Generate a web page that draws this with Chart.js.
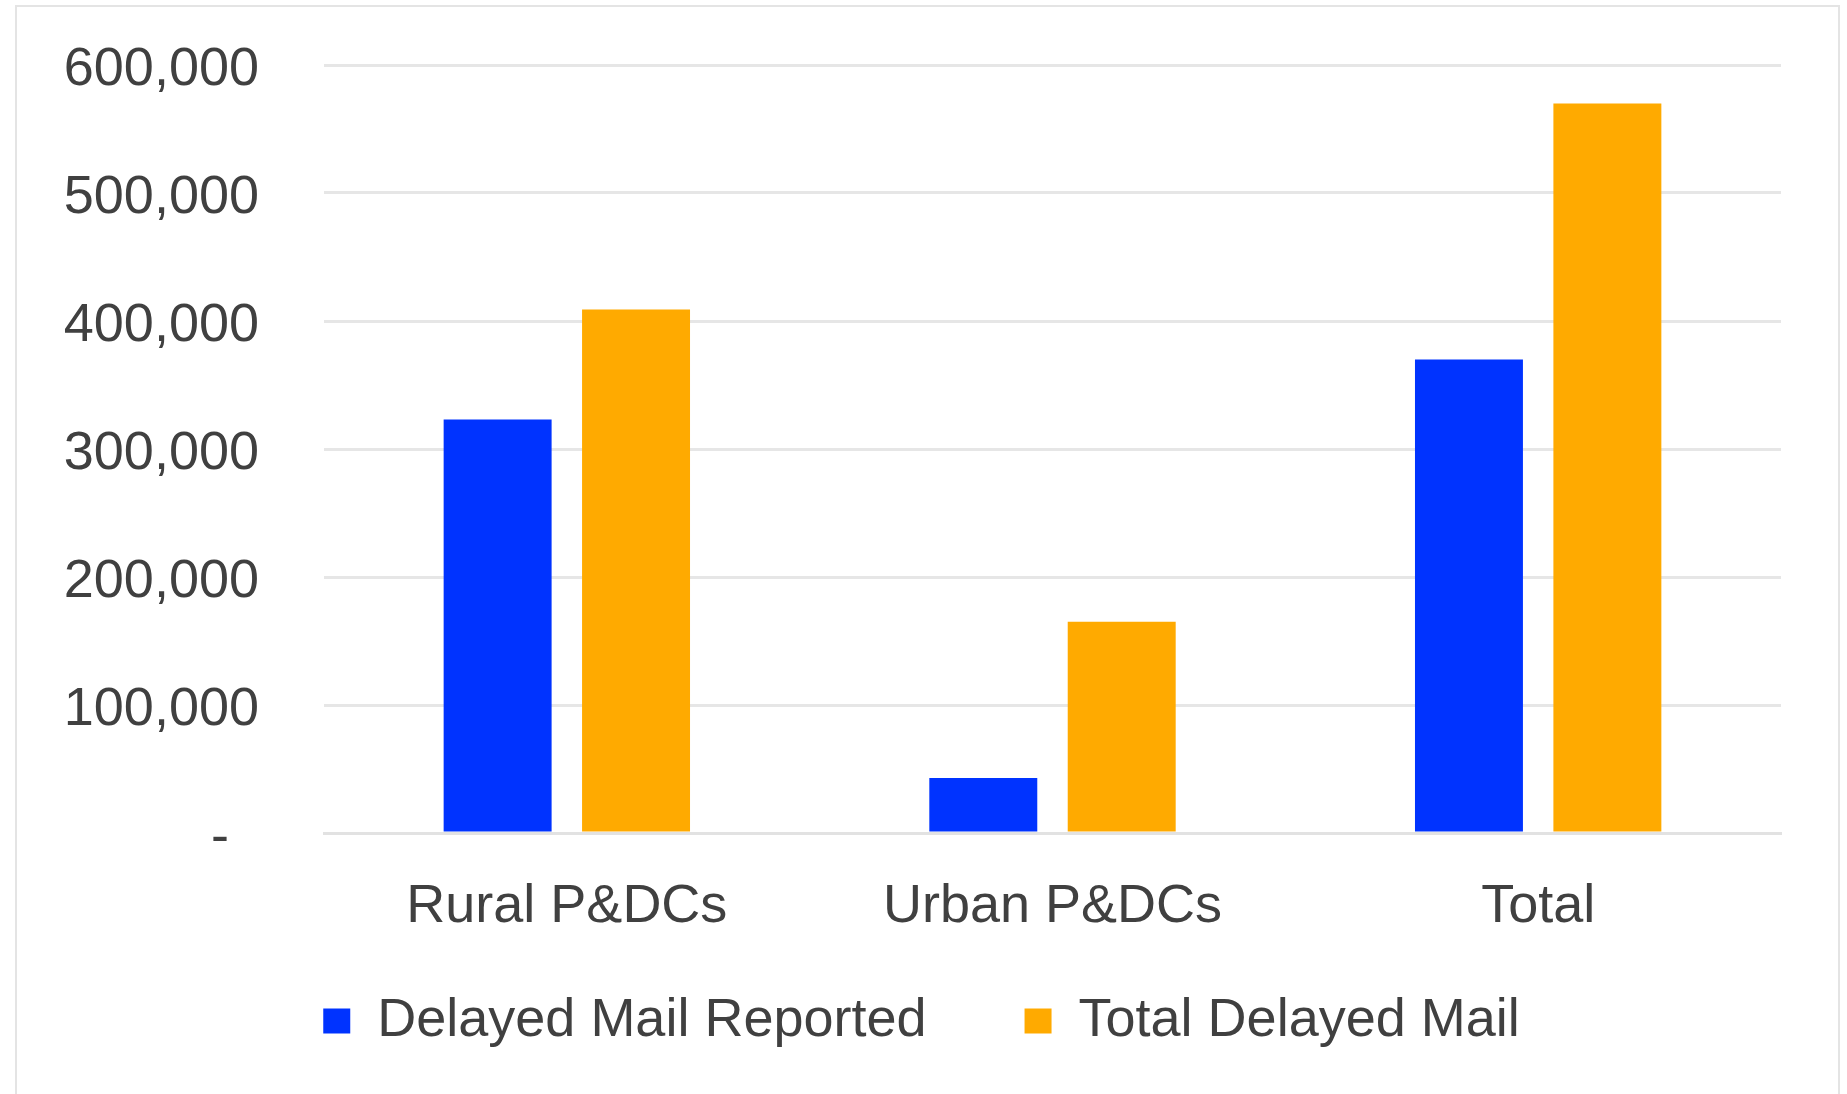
<!DOCTYPE html>
<html>
<head>
<meta charset="utf-8">
<script src="https://cdn.jsdelivr.net/npm/chart.js@4"></script>
<style>
  html, body { margin: 0; padding: 0; background: #fff; }
  body { width: 1847px; height: 1094px; position: relative; overflow: hidden; }
  .frame {
    position: absolute; left: 15px; top: 5px; width: 1821px; height: 1100px;
    border: 2px solid #e4e4e4; border-bottom: none;
  }
  .wrap { position: absolute; left: 0; top: 0; width: 1847px; height: 1094px; }
</style>
</head>
<body>
<div class="frame"></div>
<div class="wrap"><canvas id="mailChart"></canvas></div>
<script>
// categories and series
const categories = ['Rural P&DCs', 'Urban P&DCs', 'Total'];
const delayedReported = [323000, 43000, 370000];
const totalDelayed = [409000, 165000, 570000];
const yTicks = [0, 100000, 200000, 300000, 400000, 500000, 600000];

const textColor = '#404040';
const fontFamily = '"Liberation Sans", Arial, Helvetica, sans-serif';

const ctx = document.getElementById('mailChart').getContext('2d');

const mailChart = new Chart(ctx, {
    type: 'bar',
    data: {
        labels: categories,
        datasets: [{
            label: 'Delayed Mail Reported',
            data: delayedReported,
            backgroundColor: '#0033ff',
            categoryPercentage: 0.57,
            barPercentage: 0.78
        }, {
            label: 'Total Delayed Mail',
            data: totalDelayed,
            backgroundColor: '#ffaa00',
            categoryPercentage: 0.57,
            barPercentage: 0.78
        }]
    },
    options: {
        responsive: true,
        maintainAspectRatio: false,
        animation: false,
        layout: {
            padding: { left: 62, right: 66, top: 65, bottom: 36 }
        },
        plugins: {
            tooltip: { enabled: false },
            legend: {
                position: 'bottom',
                labels: {
                    color: textColor,
                    font: { family: fontFamily, size: 54 },
                    boxWidth: 27,
                    boxHeight: 25,
                    padding: 53,
                    generateLabels: function (chart) {
                        const items = Chart.defaults.plugins.legend.labels.generateLabels(chart)
                        // a bit more room after the first entry
                        items[0].text = items[0].text + '   '
                        return items
                    }
                }
            }
        },
        scales: {
            x: {
                grid: { display: false, drawTicks: false },
                border: { display: true, color: '#e2e2e2', width: 3 },
                ticks: {
                    color: textColor,
                    font: { family: fontFamily, size: 54 },
                    padding: 42
                },
                afterFit: function (scale) {
                    scale.height = 108
                }
            },
            y: {
                min: 0,
                max: 600000,
                afterBuildTicks: function (scale) {
                    scale.ticks = yTicks.map(v => ({ value: v }))
                },
                afterFit: function (scale) {
                    scale.width = 262
                    scale.paddingTop = 0
                    scale.paddingBottom = 0
                },
                grid: { color: '#e6e6e6', lineWidth: 3, drawTicks: false },
                border: { display: false },
                ticks: {
                    color: textColor,
                    font: { family: fontFamily, size: 54 },
                    padding: 65,
                    labelOffset: 5,
                    callback: function (value) {
                        return value === 0 ? '-  ' : value.toLocaleString('en-US')
                    }
                }
            }
        }
    }
});
</script>
</body>
</html>
